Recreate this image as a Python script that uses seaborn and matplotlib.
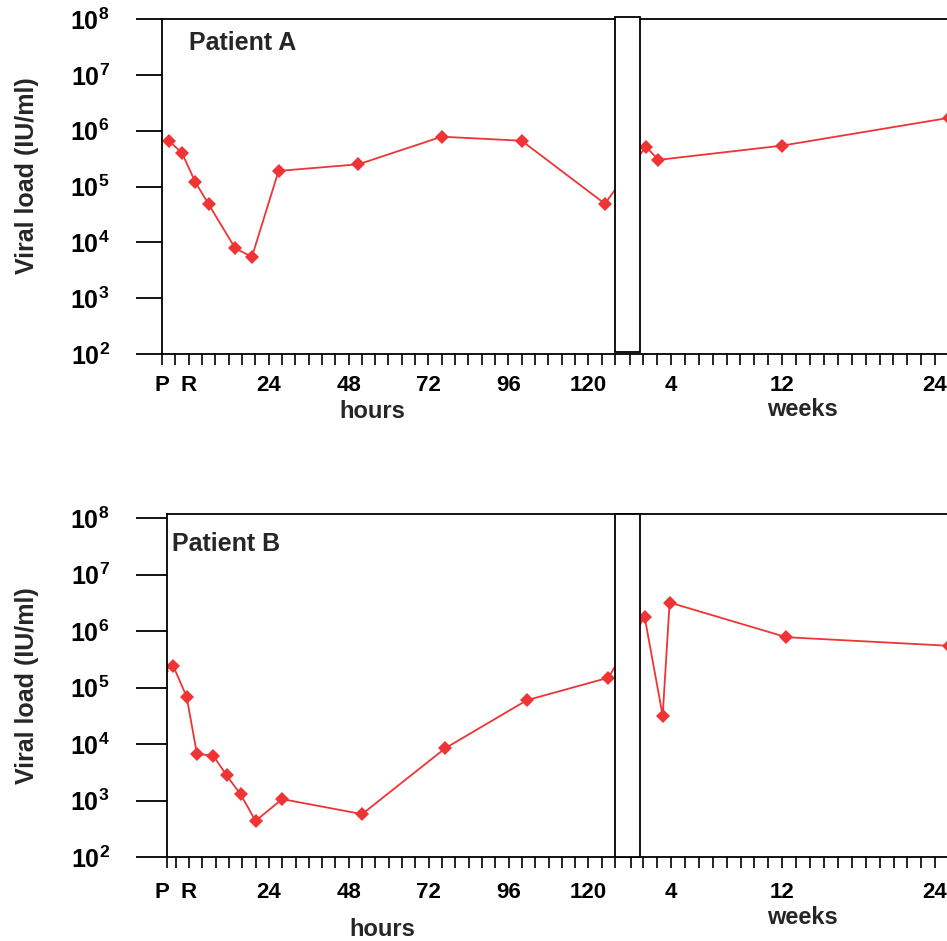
import numpy as np
import pandas as pd
import matplotlib
matplotlib.use("Agg")
import matplotlib.pyplot as plt
import seaborn as sns
from matplotlib.patches import Rectangle
from matplotlib.transforms import ScaledTranslation
from matplotlib.ticker import FixedLocator, NullLocator, FixedFormatter

# ---------------- data ----------------
a_hours = [-6, -2, 2, 6, 14, 19, 27, 51, 76, 100, 125]
a_hours_load = [6.6e5, 4.0e5, 1.2e5, 4.8e4, 7.8e3, 5.5e3, 1.9e5, 2.5e5, 7.8e5, 6.6e5, 4.9e4]
a_weeks = [2.2, 3.1, 12, 24]
a_weeks_load = [5.2e5, 3.0e5, 5.4e5, 1.7e6]

b_hours = [-8, -4.7, -0.7, 2.4, 7.3, 11.3, 15.5, 20, 28, 52, 77, 101.5, 126]
b_hours_load = [2.0e5, 2.4e5, 6.9e4, 6.7e3, 6.3e3, 2.8e3, 1.3e3, 4.4e2, 1.07e3, 5.8e2, 8.5e3, 6.0e4, 1.5e5]
b_weeks = [2.1, 3.4, 3.9, 12.3, 24]
b_weeks_load = [1.8e6, 3.2e4, 3.2e6, 7.8e5, 5.5e5]

hour_tick_pos = [-8, 0, 24, 48, 72, 96, 120]
hour_tick_labels = ["P", "R", "24", "48", "72", "96", "120"]
week_tick_pos = [4, 12, 24]
week_tick_labels = ["4", "12", "24"]
y_tick_exponents = [2, 3, 4, 5, 6, 7, 8]
patients = ["Patient A", "Patient B"]

# ---------------- broken time axis (hours | gap | weeks) ----------------
HOURS_PER_WEEK = 168.0
H_CUT = 128.0            # hours: end of the hour section
W_CUT = 1.75             # weeks: start of the week section
W_CUT_H = W_CUT * HOURS_PER_WEEK
U_W = 135.4              # scale unit where week section starts
U_PER_WEEK = 4.177       # scale units per week


def fwd(t):
    t = np.asarray(t, dtype=float)
    mid = H_CUT + (t - H_CUT) * (U_W - H_CUT) / (W_CUT_H - H_CUT)
    wk = U_W + (t - W_CUT_H) / HOURS_PER_WEEK * U_PER_WEEK
    return np.where(t <= H_CUT, t, np.where(t >= W_CUT_H, wk, mid))


def inv(u):
    u = np.asarray(u, dtype=float)
    mid = H_CUT + (u - H_CUT) * (W_CUT_H - H_CUT) / (U_W - H_CUT)
    wk = W_CUT_H + (u - U_W) / U_PER_WEEK * HOURS_PER_WEEK
    return np.where(u <= H_CUT, u, np.where(u >= U_W, wk, mid))


def make_df(hours, hload, weeks, wload):
    t = list(hours) + [w * HOURS_PER_WEEK for w in weeks]
    return pd.DataFrame({"time_h": t, "load": list(hload) + list(wload)})


dfs = [make_df(a_hours, a_hours_load, a_weeks, a_weeks_load),
       make_df(b_hours, b_hours_load, b_weeks, b_weeks_load)]

# ---------------- style ----------------
sns.set_style("ticks")
plt.rcParams["font.family"] = ["Liberation Sans", "DejaVu Sans"]
plt.rcParams["font.weight"] = "bold"
plt.rcParams["mathtext.fontset"] = "custom"
plt.rcParams["mathtext.rm"] = "Liberation Sans:bold"
plt.rcParams["mathtext.bf"] = "Liberation Sans:bold"
plt.rcParams["mathtext.it"] = "Liberation Sans:bold"
plt.rcParams["mathtext.default"] = "bf"

W, H = 947, 941
fig = plt.figure(figsize=(W / 100, H / 100), dpi=100)
fig.patch.set_facecolor("white")

RED = "#EE3434"
LW = 1.3

panels = [
    dict(left=162, top=19, bottom=354, right=955, ytop=8.0, xmin=-8.0, ylen=18.7, xpad=7,
         box_lo=10 ** (2 + 2 / 55.8), box_hi=10 ** (8 + 2 / 55.8)),
    dict(left=167, top=514, bottom=857.3, right=955, ytop=8.071, xmin=-6.6, ylen=22.3, xpad=10,
         box_lo=1e2, box_hi=10 ** 8.071),
]
XMAX_H = 4103.0

y_locs = [10.0 ** e for e in y_tick_exponents]
y_labels = [r"$10^{%d}$" % e for e in y_tick_exponents]

minor_pos_all = list(np.arange(-8, 129, 4)) + [232.0] + [w * HOURS_PER_WEEK for w in range(2, 25)]

for i, (p, df) in enumerate(zip(panels, dfs)):
    ax = fig.add_axes([p["left"] / W, 1 - p["bottom"] / H,
                       (p["right"] - p["left"]) / W, (p["bottom"] - p["top"]) / H])
    ax.set_xscale("function", functions=(fwd, inv))
    ax.set_yscale("log")
    sns.lineplot(data=df, x="time_h", y="load", ax=ax, color=RED, lw=LW,
                 marker="D", markersize=7.5, markeredgewidth=0,
                 estimator=None, sort=False, zorder=2)
    ax.set_xlim(p["xmin"], XMAX_H)
    ax.set_ylim(1e2, 10 ** p["ytop"])

    # the "P" tick sits on the left spine of each panel
    hpos = [max(h, p["xmin"]) for h in hour_tick_pos]
    major_pos = hpos + [w * HOURS_PER_WEEK for w in week_tick_pos]
    major_lab = list(hour_tick_labels) + list(week_tick_labels)
    minor_pos = [m for m in minor_pos_all if m >= p["xmin"]]

    ax.yaxis.set_major_locator(FixedLocator(y_locs))
    ax.yaxis.set_major_formatter(FixedFormatter(y_labels))
    ax.yaxis.set_minor_locator(NullLocator())
    ax.xaxis.set_major_locator(FixedLocator(major_pos))
    ax.xaxis.set_major_formatter(FixedFormatter(major_lab))
    ax.xaxis.set_minor_locator(FixedLocator(minor_pos))

    ax.tick_params(axis="y", which="major", direction="out", length=p["ylen"], width=1.3,
                   pad=19, labelsize=18, colors="black")
    ax.tick_params(axis="x", which="both", direction="out", length=8, width=1.2,
                   pad=p["xpad"], labelsize=16, colors="black")

    for s in ["left", "bottom", "top"]:
        ax.spines[s].set_linewidth(1.3)
        ax.spines[s].set_color("black")
    ax.spines["right"].set_visible(False)
    ax.set_xlabel("")
    ax.set_ylabel("")
    ax.set_facecolor("white")

    rect = Rectangle((H_CUT, p["box_lo"]), W_CUT_H - H_CUT, p["box_hi"] - p["box_lo"],
                     facecolor="white", edgecolor="black", lw=1.3, zorder=3, clip_on=False)
    ax.add_patch(rect)

    ticks = ax.xaxis.get_major_ticks()
    lab = ticks[-1].label1
    lab.set_transform(lab.get_transform() + ScaledTranslation(-0.14, 0, fig.dpi_scale_trans))
    if i == 1:
        labp = ticks[0].label1
        labp.set_transform(labp.get_transform() + ScaledTranslation(-0.05, 0, fig.dpi_scale_trans))


def ftext(px, py, s, **kw):
    fig.text(px / W, 1 - py / H, s, **kw)


ftext(189, 43, patients[0], ha="left", va="center", fontsize=18, fontweight="bold")
ftext(172, 544, patients[1], ha="left", va="center", fontsize=18, fontweight="bold")
for (hx, hy, wx, wy) in [(372, 411, 802, 410), (382, 929, 802, 918)]:
    ftext(hx, hy, "hours", ha="center", va="center", fontsize=17, fontweight="bold")
    ftext(wx, wy, "weeks", ha="center", va="center", fontsize=17, fontweight="bold")
for yc in [176, 686]:
    ftext(27, yc, "Viral load (IU/ml)", ha="center", va="center", rotation=90,
          fontsize=18, fontweight="bold")

fig.savefig("out.png", dpi=100, facecolor="white")
